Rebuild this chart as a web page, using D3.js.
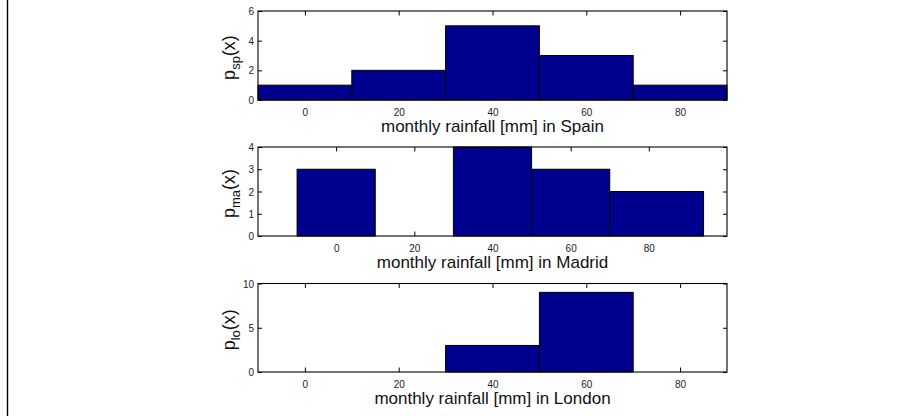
<!DOCTYPE html>
<html>
<head>
<meta charset="utf-8">
<script src="https://cdn.jsdelivr.net/npm/d3@7"></script>
<style>
  html, body { margin: 0; padding: 0; background: #fff; }
  svg { display: block; }
  text { font-family: "Liberation Sans", Arial, Helvetica, sans-serif; }
</style>
</head>
<body>
<svg id="chart" width="911" height="416"></svg>
<script>
// ---- data ----
const xTickValues = [0, 20, 40, 60, 80];

const spainBinStart = [-10, 10, 30, 50, 70];
const spainBinEnd   = [10, 30, 50, 70, 90];
const spainCounts   = [1, 2, 5, 3, 1];
const spainXDomain  = [-10, 90];
const spainYDomain  = [0, 6];
const spainYTicks   = [0, 2, 4, 6];

const madridBinStart = [-10, 10, 30, 50, 70];
const madridBinEnd   = [10, 30, 50, 70, 94];
const madridCounts   = [3, 0, 4, 3, 2];
const madridXDomain  = [-20, 100];
const madridYDomain  = [0, 4];
const madridYTicks   = [0, 1, 2, 3, 4];

const londonBinStart = [-10, 10, 30, 50, 70];
const londonBinEnd   = [10, 30, 50, 70, 90];
const londonCounts   = [0, 0, 3, 9, 0];
const londonXDomain  = [-10, 90];
const londonYDomain  = [0, 10];
const londonYTicks   = [0, 5, 10];

const xLabels = ["monthly rainfall [mm] in Spain", "monthly rainfall [mm] in Madrid", "monthly rainfall [mm] in London"];
const yLabelSubs = ["sp", "ma", "lo"];

// ---- layout ----
const svg = d3.select("#chart");
const left = 258, right = 727;
const panelTops = [11, 147, 283.5];
const panelBottoms = [100, 236, 372];
const barColor = "#00008F";
const fmt = d3.format("d");

// left border line
svg.append("line").attr("x1", 7.5).attr("x2", 7.5).attr("y1", 0).attr("y2", 416)
  .attr("stroke", "#000").attr("stroke-width", 1.4);

const panels = [
  {start: spainBinStart, end: spainBinEnd, counts: spainCounts, xd: spainXDomain, yd: spainYDomain, yt: spainYTicks},
  {start: madridBinStart, end: madridBinEnd, counts: madridCounts, xd: madridXDomain, yd: madridYDomain, yt: madridYTicks},
  {start: londonBinStart, end: londonBinEnd, counts: londonCounts, xd: londonXDomain, yd: londonYDomain, yt: londonYTicks}
];

panels.forEach((p, i) => {
  const top = panelTops[i], bottom = panelBottoms[i];
  const x = d3.scaleLinear().domain(p.xd).range([left, right]);
  const y = d3.scaleLinear().domain(p.yd).range([bottom, top]);
  const g = svg.append("g");
  const tickLen = 4.5;

  const xb = g.append("g").attr("transform", `translate(0,${bottom})`)
    .call(d3.axisBottom(x).tickValues(xTickValues).tickFormat(fmt).tickSizeInner(-tickLen).tickSizeOuter(0).tickPadding(9));
  const xt = g.append("g").attr("transform", `translate(0,${top})`)
    .call(d3.axisTop(x).tickValues(xTickValues).tickSizeInner(-tickLen).tickSizeOuter(0).tickFormat(""));
  const yl = g.append("g").attr("transform", `translate(${left},0)`)
    .call(d3.axisLeft(y).tickValues(p.yt).tickFormat(fmt).tickSizeInner(-4).tickSizeOuter(0).tickPadding(4));
  const yr = g.append("g").attr("transform", `translate(${right},0)`)
    .call(d3.axisRight(y).tickValues(p.yt).tickSizeInner(-4).tickSizeOuter(0).tickFormat(""));
  [xb, xt, yl, yr].forEach(a => {
    a.select(".domain").remove();
    a.selectAll(".tick line").attr("stroke", "#000").attr("stroke-width", 1);
    a.selectAll(".tick text").attr("fill", "#222").style("font-size", "10px")
      .style("font-family", "'Liberation Sans', Arial, Helvetica, sans-serif");
  });
  yl.selectAll(".tick text").attr("dy", "0.35em");

  g.append("g").selectAll("rect").data(p.counts).join("rect")
    .attr("x", (d, j) => x(p.start[j]))
    .attr("width", (d, j) => x(p.end[j]) - x(p.start[j]))
    .attr("y", d => y(d))
    .attr("height", d => y(0) - y(d))
    .attr("fill", barColor)
    .attr("stroke", "#000")
    .attr("stroke-width", 1);

  g.append("rect").attr("x", left).attr("y", top).attr("width", right - left).attr("height", bottom - top)
    .attr("fill", "none").attr("stroke", "#000").attr("stroke-width", 1.1);

  g.append("text").attr("x", (left + right) / 2).attr("y", bottom + 31.5)
    .attr("text-anchor", "middle").style("font-size", "17px").attr("fill", "#111")
    .text(xLabels[i]);

  const yl2 = g.append("text")
    .attr("transform", `translate(235,${(top + bottom) / 2 + 2}) rotate(-90)`)
    .attr("text-anchor", "middle").style("font-size", "18px").attr("fill", "#111");
  yl2.append("tspan").text("p");
  yl2.append("tspan").attr("dy", 5).style("font-size", "13px").text(yLabelSubs[i]);
  yl2.append("tspan").attr("dy", -5).text("(x)");
});
</script>
</body>
</html>
